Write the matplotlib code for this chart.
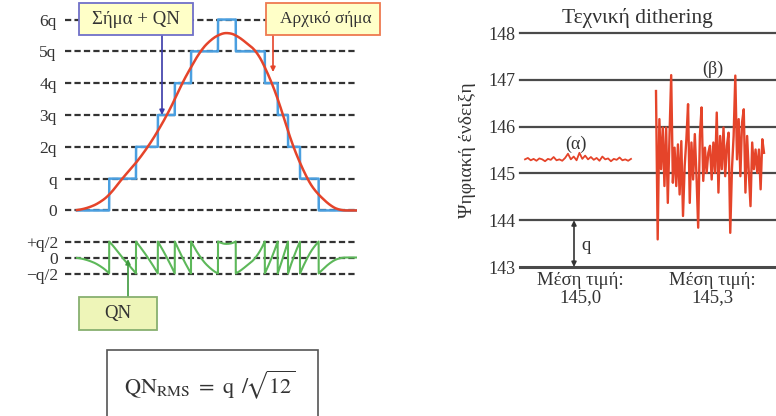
import numpy as np
import matplotlib
matplotlib.use("Agg")
import matplotlib.pyplot as plt
from matplotlib.patches import Rectangle

plt.rcParams['font.family'] = ['Liberation Serif', 'DejaVu Serif']
plt.rcParams['mathtext.fontset'] = 'stix'
plt.rcParams['lines.scale_dashes'] = False

# ---------------- data ----------------
# original analog signal (time position, amplitude in units of q)
sig_t = [77, 90, 100, 110, 122, 135, 148, 158, 167, 175, 182, 191, 200, 210, 220,
         228, 237, 247, 257, 265, 272, 278, 283, 288, 293, 300, 307, 315, 322, 330,
         340, 357]
sig_v = [0.0, 0.1, 0.25, 0.5, 1.0, 1.45, 2.0, 2.5, 3.0, 3.5, 4.0, 4.5, 5.0, 5.35, 5.55,
         5.6, 5.5, 5.25, 5.0, 4.5, 4.0, 3.5, 3.0, 2.5, 2.0, 1.5, 1.0, 0.6, 0.4, 0.15,
         0.0, 0.0]
level_labels = ['0', 'q', '2q', '3q', '4q', '5q', '6q']
qn_labels = ['+q/2', '0', '\u2212q/2']

# dithering readings
alpha_vals = [145.30, 145.33, 145.28, 145.31, 145.27, 145.32, 145.30, 145.26, 145.31,
              145.29, 145.35, 145.28, 145.30, 145.27, 145.33, 145.42, 145.30, 145.36,
              145.28, 145.44, 145.31, 145.38, 145.30, 145.35, 145.29, 145.33, 145.27,
              145.36, 145.30, 145.32, 145.26, 145.31, 145.29, 145.34, 145.28, 145.30,
              145.27, 145.31]
beta_vals = [146.76, 143.59, 146.16, 145.09, 145.98, 144.73, 145.98, 144.37, 145.80,
             147.10, 144.80, 145.55, 144.73, 145.62, 144.55, 145.69, 144.09, 145.16,
             145.73, 146.48, 144.37, 145.66, 144.87, 145.84, 144.94, 143.84, 145.80,
             146.41, 144.84, 145.55, 145.01, 145.44, 145.59, 144.87, 145.66, 145.01,
             146.30, 144.59, 145.80, 145.09, 145.98, 144.94, 145.59, 145.87, 143.73,
             145.09, 145.80, 147.09, 145.30, 146.16, 144.94, 146.09, 146.37, 144.59,
             145.80, 145.01, 144.30, 145.66, 145.09, 145.51, 145.01, 145.51, 144.66,
             145.73, 145.44]
y_ticks_right = [143, 144, 145, 146, 147, 148]

# ---------------- figure ----------------
W, H = 776, 416
fig = plt.figure(figsize=(W / 100, H / 100), dpi=100)
TXT = '#333333'


def axes_px(x0, y0, x1, y1):
    return fig.add_axes([x0 / W, 1 - y1 / H, (x1 - x0) / W, (y1 - y0) / H])


def box_px(x0, y0, x1, y1, fc, ec, lw=1.3):
    r = Rectangle((x0 / W, 1 - y1 / H), (x1 - x0) / W, (y1 - y0) / H,
                  transform=fig.transFigure, facecolor=fc, edgecolor=ec, lw=lw,
                  zorder=3)
    fig.add_artist(r)


def clean(ax):
    for s in ax.spines.values():
        s.set_visible(False)
    ax.set_xticks([])
    ax.tick_params(axis='y', length=0, colors=TXT)


# dense signal
xd = np.linspace(sig_t[0], sig_t[-1], 4000)
yd = np.interp(xd, sig_t, sig_v)
k = 90
yd = np.convolve(np.pad(yd, k, mode='edge'), np.ones(2 * k + 1) / (2 * k + 1), mode='same')[k:-k]
quant = np.floor(yd + 0.5)
qn = quant - yd

# --- top-left: signal & quantized signal
ax1 = axes_px(65, 10, 357, 220)
clean(ax1)
ax1.set_xlim(65, 357)
ax1.set_ylim(-0.3, 6.3)
ax1.set_yticks(range(len(level_labels)))
ax1.set_yticklabels(level_labels, fontsize=12.5)
ax1.tick_params(axis='y', pad=6)
for lv in range(len(level_labels)):
    ax1.axhline(lv, color='#333333', lw=1.6, dashes=(4.5, 2.3), zorder=1)
ax1.plot(xd, quant, color='#4A9FE0', lw=1.8, zorder=2)
ax1.plot(xd, yd, color='#E5442A', lw=1.8, zorder=3)

# --- QN axes
ax2 = axes_px(65, 238.3, 357, 276.7)
clean(ax2)
ax2.set_xlim(65, 357)
ax2.set_ylim(-0.6, 0.6)
ax2.set_yticks([0.5, 0, -0.5])
ax2.set_yticklabels(qn_labels, fontsize=12.5)
ax2.tick_params(axis='y', pad=5)
for lv in [0.5, 0, -0.5]:
    ax2.axhline(lv, color='#333333', lw=1.6, dashes=(4.5, 2.3), zorder=1)
ax2.plot(xd, qn, color='#5DB85A', lw=1.5, zorder=2)

# boxes
box_px(79, 3, 193, 35, '#FFFFC8', '#7070C8')
fig.text(136 / W, 1 - 19 / H, 'Σήμα + QN', ha='center', va='center', fontsize=13.5,
         color=TXT, zorder=4)
box_px(266, 3, 380, 35, '#FFFFC8', '#EE7A50')
fig.text(326 / W, 1 - 19 / H, 'Αρχικό σήμα', ha='center', va='center', fontsize=12.5,
         color=TXT, zorder=4)
box_px(79, 297, 157, 330, '#EEF5B8', '#88B070')
fig.text(118 / W, 1 - 313.5 / H, 'QN', ha='center', va='center', fontsize=13.5,
         color=TXT, zorder=4)
box_px(107, 350, 318, 425, 'white', '#555555', lw=1.2)
fig.text(210 / W, 1 - 385 / H, r'$\mathrm{QN}_{\mathrm{RMS}}\ =\ \mathrm{q}\ \,/\!\sqrt{12}$',
         ha='center', va='center', fontsize=16, color=TXT, zorder=4)

# arrows
ax1.annotate('', xy=(162, 3.0), xytext=(162, 5.52), annotation_clip=False,
             arrowprops=dict(arrowstyle='-|>', color='#3A3AA8', lw=1.2,
                             mutation_scale=7, shrinkA=0, shrinkB=0), zorder=5)
ax1.annotate('', xy=(273, 4.35), xytext=(273, 5.52), annotation_clip=False,
             arrowprops=dict(arrowstyle='-|>', color='#E5442A', lw=1.2,
                             mutation_scale=7, shrinkA=0, shrinkB=0), zorder=5)
ax2.annotate('', xy=(128, -0.05), xytext=(128, -1.23), annotation_clip=False,
             arrowprops=dict(arrowstyle='-|>', color='#3E9A3E', lw=1.2,
                             mutation_scale=7, shrinkA=0, shrinkB=0), zorder=5)

# --- right: dithering
ax3 = axes_px(520, 33, 776, 267)
clean(ax3)
ax3.set_xlim(520, 776)
ax3.set_ylim(143, 148)
ax3.set_yticks(y_ticks_right)
ax3.set_yticklabels([str(v) for v in y_ticks_right], fontsize=13)
ax3.tick_params(axis='y', pad=3)
for v in y_ticks_right:
    ax3.axhline(v, color='#4A4A4A', lw=2.2 if v == 143 else 1.6, clip_on=False, zorder=1)
ax3.plot(np.linspace(525, 631, len(alpha_vals)), alpha_vals, color='#E5442A', lw=1.3, zorder=2)
ax3.plot(np.linspace(656, 764, len(beta_vals)), beta_vals, color='#E5442A', lw=1.7, zorder=2)
ax3.set_title('Τεχνική dithering', x=0.46, pad=7, fontsize=15.5, color=TXT)
ax3.set_ylabel('Ψηφιακή ένδειξη', fontsize=14, color=TXT, labelpad=9)
ax3.text(576, 145.62, '(α)', ha='center', va='center', fontsize=13, color=TXT)
ax3.text(713, 147.22, '(β)', ha='center', va='center', fontsize=13, color=TXT)
ax3.annotate('', xy=(574, 144), xytext=(574, 143), annotation_clip=False,
             arrowprops=dict(arrowstyle='<|-|>', color='#333333', lw=1.2,
                             mutation_scale=7, shrinkA=0, shrinkB=0))
ax3.text(581, 143.47, 'q', ha='left', va='center', fontsize=13.5, color=TXT)
ax3.text(580, 142.9, 'Μέση τιμή:\n145,0', ha='center', va='top', fontsize=13.5,
         color=TXT, linespacing=1.0, clip_on=False)
ax3.text(712, 142.9, 'Μέση τιμή:\n145,3', ha='center', va='top', fontsize=13.5,
         color=TXT, linespacing=1.0, clip_on=False)

fig.savefig('out.png', dpi=100)
